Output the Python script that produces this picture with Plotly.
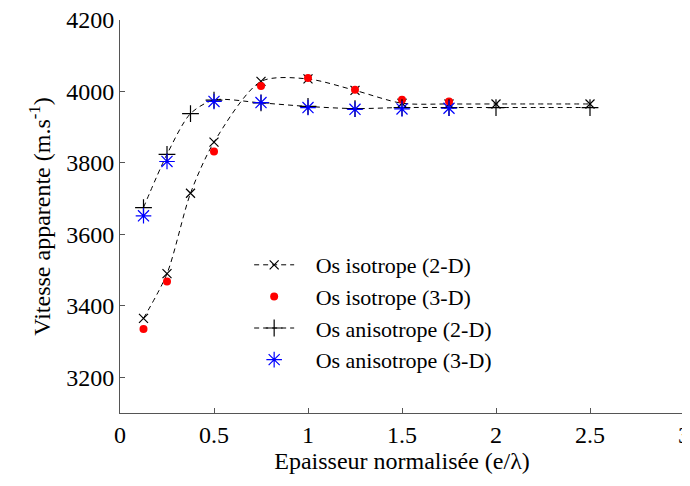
import plotly.graph_objects as go

x_2d = [0.125, 0.25, 0.375, 0.5, 0.75, 1.0, 1.25, 1.5, 1.75, 2.0, 2.5]
iso_2d = [3365, 3490, 3715, 3858, 4028, 4035, 4003, 3967, 3965, 3965, 3965]
aniso_2d = [3675, 3824, 3938, 3976, 3968, 3958, 3952, 3955, 3955, 3955, 3955]

x_3d = [0.125, 0.25, 0.5, 0.75, 1.0, 1.25, 1.5, 1.75]
iso_3d = [3335, 3468, 3832, 4015, 4038, 4005, 3977, 3972]
aniso_3d = [3652, 3804, 3972, 3969, 3955, 3950, 3951, 3953]

x_ticks = [0, 0.5, 1, 1.5, 2, 2.5, 3]
x_labels = ["0", "0.5", "1", "1.5", "2", "2.5", "3"]
y_ticks = [3200, 3400, 3600, 3800, 4000, 4200]
y_labels = ["3200", "3400", "3600", "3800", "4000", "4200"]

FONT = "Liberation Serif"
PAD = "\u00a0\u00a0\u00a0"

fig = go.Figure()
fig.add_trace(go.Scatter(
    x=x_2d, y=iso_2d, name=PAD + "Os isotrope (2-D)", mode="lines+markers",
    line=dict(color="black", width=1, dash="5px,4px", shape="spline", smoothing=0.8),
    marker=dict(symbol="x-thin-open", size=9, color="black", line=dict(width=1.2, color="black")),
))
fig.add_trace(go.Scatter(
    x=x_3d, y=iso_3d, name=PAD + "Os isotrope (3-D)", mode="markers",
    marker=dict(symbol="circle", size=8, color="red", line=dict(width=0)),
))
fig.add_trace(go.Scatter(
    x=x_2d, y=aniso_2d, name=PAD + "Os anisotrope (2-D)", mode="lines+markers",
    line=dict(color="black", width=1, dash="5px,4px", shape="spline", smoothing=0.8),
    marker=dict(symbol="cross-thin-open", size=12, color="black", line=dict(width=1.2, color="black")),
))
fig.add_trace(go.Scatter(
    x=x_3d, y=aniso_3d, name=PAD + "Os anisotrope (3-D)", mode="markers",
    marker=dict(symbol="asterisk-open", size=13, color="blue", line=dict(width=1.2, color="blue")),
))

fig.update_layout(
    width=682, height=470,
    margin=dict(l=112, r=6, t=12, b=65),
    paper_bgcolor="white", plot_bgcolor="white",
    font=dict(family=FONT, size=24, color="black"),
    showlegend=True,
    legend=dict(x=0.229, y=0.43, xanchor="left", yanchor="top",
                bgcolor="rgba(0,0,0,0)", font=dict(family=FONT, size=22),
                itemwidth=40, tracegroupgap=0),
)
fig.update_xaxes(
    range=[0, 3], tickvals=x_ticks, ticktext=x_labels, ticklabeloverflow="allow",
    automargin=False,
    showgrid=False, zeroline=False, showline=True, linecolor="#555", linewidth=1,
    ticks="inside", ticklen=5, tickcolor="#555",
    tickfont=dict(family=FONT, size=24),
    title=dict(text="Epaisseur normalisée (e/λ)", font=dict(family=FONT, size=24), standoff=4),
)
fig.update_yaxes(
    range=[3100, 4200], tickvals=y_ticks, ticktext=y_labels, ticklabeloverflow="allow",
    automargin=False,
    showgrid=False, zeroline=False, showline=True, linecolor="#555", linewidth=1,
    ticks="inside", ticklen=5, tickcolor="#555",
    tickfont=dict(family=FONT, size=24),
    title=dict(text="Vitesse apparente (m.s<sup>-1</sup>)", font=dict(family=FONT, size=24), standoff=8),
)

fig.write_html("out.html")
